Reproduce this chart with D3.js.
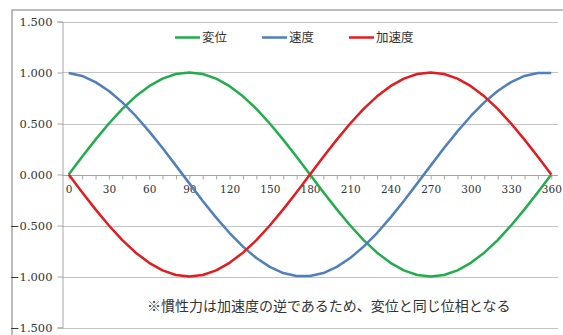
<!DOCTYPE html>
<html>
<head>
<meta charset="utf-8">
<script src="https://cdn.jsdelivr.net/npm/d3@7/dist/d3.min.js"></script>
<style>
  html, body { margin: 0; padding: 0; background: #fff; }
  svg { display: block; }
</style>
</head>
<body>
<svg id="chart" width="563" height="335"></svg>
<script>
// Phase angle (degrees), one category every 10°
const angles = [0,10,20,30,40,50,60,70,80,90,100,110,120,130,140,150,160,170,180,
                190,200,210,220,230,240,250,260,270,280,290,300,310,320,330,340,350,360];

// 変位 (displacement)
const displacement = [0.000,0.174,0.342,0.500,0.643,0.766,0.866,0.940,0.985,1.000,
  0.985,0.940,0.866,0.766,0.643,0.500,0.342,0.174,0.000,
  -0.174,-0.342,-0.500,-0.643,-0.766,-0.866,-0.940,-0.985,-1.000,
  -0.985,-0.940,-0.866,-0.766,-0.643,-0.500,-0.342,-0.174,0.000];

// 速度 (velocity, forward difference of displacement)
const velocity = [0.996,0.966,0.906,0.819,0.707,0.574,0.423,0.259,0.087,-0.087,
  -0.259,-0.423,-0.574,-0.707,-0.819,-0.906,-0.966,-0.996,-0.996,
  -0.966,-0.906,-0.819,-0.707,-0.574,-0.423,-0.259,-0.087,0.087,
  0.259,0.423,0.574,0.707,0.819,0.906,0.966,0.996,0.996];

// 加速度 (acceleration)
const acceleration = [0.000,-0.174,-0.342,-0.500,-0.643,-0.766,-0.866,-0.940,-0.985,-1.000,
  -0.985,-0.940,-0.866,-0.766,-0.643,-0.500,-0.342,-0.174,0.000,
  0.174,0.342,0.500,0.643,0.766,0.866,0.940,0.985,1.000,
  0.985,0.940,0.866,0.766,0.643,0.500,0.342,0.174,0.000];

const seriesNames = ["変位", "速度", "加速度"];
const seriesColors = ["#22ad4c", "#4f7fbd", "#e41b1f"];
const seriesValues = [displacement, velocity, acceleration];

const yTicks = [1.5, 1.0, 0.5, 0.0, -0.5, -1.0, -1.5];
const xLabelAngles = [0,30,60,90,120,150,180,210,240,270,300,330,360];
const note = "※慣性力は加速度の逆であるため、変位と同じ位相となる";

const svg = d3.select("#chart");
const plot = { left: 62, right: 558, top: 21.5, bottom: 327.5 };

// outer chart frame
svg.append("rect")
  .attr("x", 12).attr("y", 10).attr("width", 570).attr("height", 360)
  .attr("fill", "none").attr("stroke", "#a6a6a6").attr("stroke-width", 1.5);

const x = d3.scalePoint().domain(angles).range([plot.left, plot.right]).padding(0.5);
const y = d3.scaleLinear().domain([-1.5, 1.5]).range([plot.bottom, plot.top]);

// horizontal gridlines
svg.append("g").selectAll("line").data(yTicks.filter(v => v !== 0)).join("line")
  .attr("x1", plot.left).attr("x2", plot.right)
  .attr("y1", d => Math.round(y(d)) + 0.5).attr("y2", d => Math.round(y(d)) + 0.5)
  .attr("stroke", "#c4c4c4").attr("stroke-width", 1);

// y axis
const yAxis = svg.append("g")
  .attr("transform", `translate(${plot.left + 0.5},0)`)
  .call(d3.axisLeft(y).tickValues(yTicks).tickSize(5).tickPadding(5)
        .tickFormat(d => d3.format(".3f")(d)));
yAxis.select(".domain").attr("stroke", "#a6a6a6");
yAxis.selectAll(".tick line").attr("stroke", "#a6a6a6");
yAxis.selectAll("text")
  .attr("font-family", "DejaVu Serif, serif").attr("font-size", 11.5).attr("fill", "#333");

// x axis on the zero line
const xAxis = svg.append("g")
  .attr("transform", `translate(0,${Math.round(y(0)) + 0.5})`)
  .call(d3.axisBottom(x).tickSize(4).tickPadding(6)
        .tickFormat(d => xLabelAngles.includes(d) ? d : ""));
xAxis.select(".domain").attr("d", `M${plot.left},0H${plot.right}`).attr("stroke", "#a6a6a6");
xAxis.selectAll(".tick line").attr("stroke", "#a6a6a6");
xAxis.selectAll("text")
  .attr("font-family", "DejaVu Serif, serif").attr("font-size", 10.5).attr("fill", "#333");

// series lines
const line = d3.line().x((d, i) => x(angles[i])).y(d => y(d));
seriesValues.forEach((vals, k) => {
  svg.append("path")
    .datum(vals)
    .attr("d", line)
    .attr("fill", "none")
    .attr("stroke", seriesColors[k])
    .attr("stroke-width", 2.5)
    .attr("stroke-linejoin", "round");
});

// legend
const legendX = [175, 262, 349];
const legend = svg.append("g");
seriesNames.forEach((name, k) => {
  legend.append("line")
    .attr("x1", legendX[k]).attr("x2", legendX[k] + 25)
    .attr("y1", 37.5).attr("y2", 37.5)
    .attr("stroke", seriesColors[k]).attr("stroke-width", 2.5);
  legend.append("text")
    .attr("x", legendX[k] + 27).attr("y", 37.5).attr("dy", "0.36em")
    .attr("font-family", "Noto Sans CJK JP, sans-serif").attr("font-size", 12.5)
    .attr("fill", "#333").text(name);
});

// annotation
svg.append("text")
  .attr("x", 147).attr("y", 306).attr("dy", "0.36em")
  .attr("font-family", "Noto Sans CJK JP, sans-serif").attr("font-size", 14)
  .attr("fill", "#333").text(note);
</script>
</body>
</html>
